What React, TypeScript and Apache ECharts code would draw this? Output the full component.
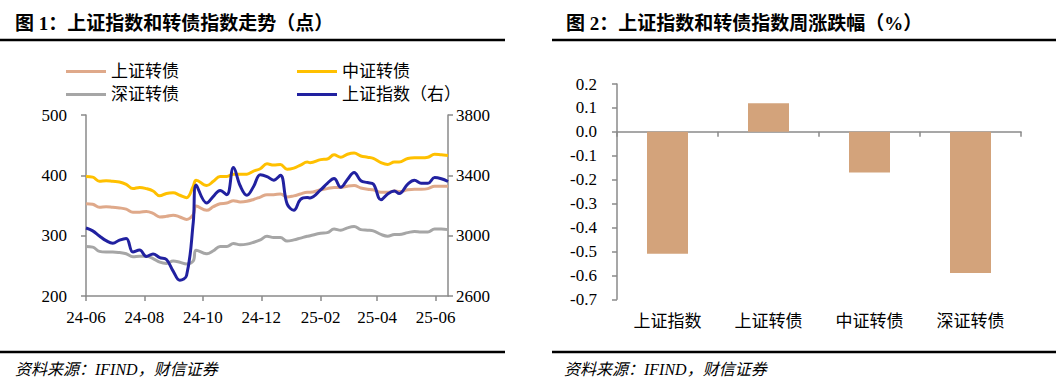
import React, { useEffect, useRef } from 'react';
import * as echarts from 'echarts';

const dates = [
  '2024-06-07', '2024-06-14', '2024-06-21', '2024-06-28', '2024-07-05', '2024-07-12', '2024-07-19', '2024-07-26',
  '2024-08-02', '2024-08-09', '2024-08-16', '2024-08-23', '2024-08-30', '2024-09-06', '2024-09-13', '2024-09-20',
  '2024-09-27', '2024-09-30', '2024-10-11', '2024-10-18', '2024-10-25', '2024-11-01', '2024-11-08', '2024-11-15',
  '2024-11-22', '2024-11-29', '2024-12-06', '2024-12-13', '2024-12-20', '2024-12-27', '2025-01-03', '2025-01-10',
  '2025-01-17', '2025-01-24', '2025-01-27', '2025-02-07', '2025-02-14', '2025-02-21', '2025-02-28', '2025-03-07',
  '2025-03-14', '2025-03-21', '2025-03-28', '2025-04-03', '2025-04-11', '2025-04-18', '2025-04-25', '2025-04-30',
  '2025-05-09', '2025-05-16', '2025-05-23', '2025-05-30', '2025-06-06', '2025-06-13', '2025-06-20',
];

// 上证转债 (left axis)
const shConv = [
  353, 352, 347, 348, 347, 346, 344, 339, 339, 340, 337, 331, 332, 334, 331, 327,
  335, 349, 342, 348, 353, 354, 358, 356, 357, 360, 364, 368, 368, 369, 364, 366,
  369, 372, 372, 376, 378, 380, 380, 382, 383, 379, 377, 376, 372, 372, 374, 373,
  376, 377, 377, 378, 382, 382, 382,
];

// 中证转债 (left axis)
const csiConv = [
  398, 397, 390, 391, 390, 389, 385, 378, 380, 378, 374, 366, 370, 371, 367, 363,
  382, 392, 383, 390, 398, 398, 402, 402, 402, 407, 411, 419, 417, 418, 410, 412,
  417, 422, 421, 426, 427, 434, 430, 435, 437, 432, 430, 428, 421, 418, 422, 422,
  428, 429, 429, 430, 435, 434, 433,
];

// 深证转债 (left axis)
const szConv = [
  282, 281, 274, 273, 273, 272, 270, 265, 266, 266, 262, 256, 254, 258, 256, 253,
  258, 276, 270, 275, 282, 282, 287, 285, 286, 289, 293, 299, 297, 297, 291, 293,
  296, 299, 300, 304, 305, 311, 309, 313, 315, 310, 309, 308, 302, 299, 302, 302,
  305, 307, 306, 306, 311, 311, 310,
];

// 上证指数 (right axis)
const sseIndex = [
  3051, 3032, 2998, 2967, 2950, 2971, 2982, 2891, 2905, 2862, 2879, 2855, 2842, 2765, 2704, 2736,
  3088, 3336, 3217, 3261, 3300, 3272, 3452, 3331, 3268, 3326, 3404, 3392, 3368, 3400, 3211, 3169,
  3241, 3253, 3250, 3303, 3347, 3379, 3321, 3373, 3419, 3364, 3352, 3342, 3238, 3277, 3296, 3279,
  3342, 3367, 3348, 3347, 3385, 3377, 3359,
];

const xTickDates = ['2024-06-07', '2024-08-07', '2024-10-07', '2024-12-07', '2025-02-07', '2025-04-07', '2025-06-07'];

const barCats = ['上证指数', '上证转债', '中证转债', '深证转债'];
const barVals = [-0.51, 0.12, -0.17, -0.59];

const SERIF = "'Liberation Serif', 'Times New Roman', 'Noto Sans CJK SC', serif";
const CJK = "'Liberation Serif', 'Noto Sans CJK SC', sans-serif";
const AXIS_COLOR = '#8a8a8a';

export default function App() {
  const ref = useRef<HTMLDivElement>(null);

  useEffect(() => {
    if (!ref.current) return;
    const chart = echarts.init(ref.current, undefined, { renderer: 'svg' });
    const ts = dates.map((d) => Date.parse(d));
    const pairs = (arr: number[]) => arr.map((v, i) => [ts[i], v]);
    const tickTs = xTickDates.map((d) => Date.parse(d));
    const fmtDate = (v: number) => {
      const d = new Date(v);
      return String(d.getUTCFullYear()).slice(2) + '-' + String(d.getUTCMonth() + 1).padStart(2, '0');
    };
    const axisLine = { show: true, lineStyle: { color: AXIS_COLOR, width: 1.5 } };
    const axisTick = { show: true, length: 5, lineStyle: { color: AXIS_COLOR, width: 1.5 } };
    const lbl = { color: '#000', fontSize: 17, fontFamily: SERIF };

    const legendBase = {
      left: 61,
      itemGap: 118,
      itemWidth: 40,
      itemHeight: 3,
      icon: 'rect',
      textStyle: { color: '#000', fontSize: 17, fontFamily: CJK },
    };

    const option: any = {
      animation: false,
      textStyle: { fontFamily: SERIF },
      grid: [
        { left: 86, top: 115, width: 362, height: 181 },
        { left: 617, top: 84, width: 404, height: 215.3 },
      ],
      legend: [
        { ...legendBase, top: 58, data: ['上证转债', '中证转债'] },
        { ...legendBase, top: 81, data: ['深证转债', '上证指数（右）'] },
      ],
      xAxis: [
        {
          type: 'value',
          gridIndex: 0,
          min: ts[0],
          max: ts[ts.length - 1],
          axisLine,
          axisTick: { ...axisTick, customValues: tickTs },
          axisLabel: { ...lbl, customValues: tickTs, formatter: fmtDate, margin: 13 },
          splitLine: { show: false },
        },
        {
          type: 'category',
          gridIndex: 1,
          data: barCats,
          axisLine: { ...axisLine, onZero: true },
          axisTick,
          axisLabel: { show: false },
          splitLine: { show: false },
        },
        {
          type: 'category',
          gridIndex: 1,
          data: barCats,
          position: 'bottom',
          axisLine: { show: false, onZero: false },
          axisTick: { show: false },
          axisLabel: { color: '#000', fontSize: 17, fontFamily: CJK, margin: 14 },
          splitLine: { show: false },
        },
      ],
      yAxis: [
        {
          type: 'value',
          gridIndex: 0,
          min: 200,
          max: 500,
          interval: 100,
          axisLine,
          axisTick,
          splitLine: { show: false },
          axisLabel: { ...lbl, margin: 19, formatter: (v: number) => String(v) },
        },
        {
          type: 'value',
          gridIndex: 0,
          position: 'right',
          min: 2600,
          max: 3800,
          interval: 400,
          axisLine,
          axisTick,
          splitLine: { show: false },
          axisLabel: { ...lbl, margin: 8, formatter: (v: number) => String(v) },
        },
        {
          type: 'value',
          gridIndex: 1,
          min: -0.7,
          max: 0.2,
          interval: 0.1,
          axisLine,
          axisTick,
          splitLine: { show: false },
          axisLabel: {
            ...lbl,
            margin: 20,
            formatter: (v: number) => (Math.abs(v) < 1e-9 ? '0.0' : v.toFixed(1)),
          },
        },
      ],
      series: [
        {
          name: '上证转债', type: 'line', xAxisIndex: 0, yAxisIndex: 0, data: pairs(shConv),
          smooth: 0.4, showSymbol: false, color: '#DFA98A', lineStyle: { width: 3, color: '#DFA98A' },
        },
        {
          name: '中证转债', type: 'line', xAxisIndex: 0, yAxisIndex: 0, data: pairs(csiConv),
          smooth: 0.4, showSymbol: false, color: '#FFC000', lineStyle: { width: 3, color: '#FFC000' },
        },
        {
          name: '深证转债', type: 'line', xAxisIndex: 0, yAxisIndex: 0, data: pairs(szConv),
          smooth: 0.4, showSymbol: false, color: '#A6A6A6', lineStyle: { width: 3, color: '#A6A6A6' },
        },
        {
          name: '上证指数（右）', type: 'line', xAxisIndex: 0, yAxisIndex: 1, data: pairs(sseIndex),
          smooth: 0.4, showSymbol: false, color: '#2121A0', lineStyle: { width: 3, color: '#2121A0' },
        },
        {
          name: '周涨跌幅', type: 'bar', xAxisIndex: 1, yAxisIndex: 2, data: barVals,
          barWidth: 41, itemStyle: { color: '#D3A37B' },
        },
      ],
      graphic: [
        { type: 'text', left: 15, top: 14, style: { text: '图 1：上证指数和转债指数走势（点）', fontSize: 19, fontWeight: 'bold', fill: '#000', fontFamily: CJK } },
        { type: 'text', left: 566, top: 14, style: { text: '图 2：上证指数和转债指数周涨跌幅（%）', fontSize: 19, fontWeight: 'bold', fill: '#000', fontFamily: CJK } },
        { type: 'line', shape: { x1: 0, y1: 40, x2: 505, y2: 40 }, style: { stroke: '#000', lineWidth: 2.5 } },
        { type: 'line', shape: { x1: 552, y1: 40, x2: 1056, y2: 40 }, style: { stroke: '#000', lineWidth: 2.5 } },
        { type: 'line', shape: { x1: 0, y1: 352, x2: 505, y2: 352 }, style: { stroke: '#000', lineWidth: 2.5 } },
        { type: 'line', shape: { x1: 552, y1: 352, x2: 1056, y2: 352 }, style: { stroke: '#000', lineWidth: 2.5 } },
        { type: 'text', left: 15, top: 361, style: { text: '资料来源：IFIND，财信证券', fontSize: 16, fontStyle: 'italic', fill: '#000', fontFamily: CJK } },
        { type: 'text', left: 564, top: 361, style: { text: '资料来源：IFIND，财信证券', fontSize: 16, fontStyle: 'italic', fill: '#000', fontFamily: CJK } },
      ],
    };
    chart.setOption(option);
    return () => chart.dispose();
  }, []);

  return (
    <div
      ref={ref}
      style={{ position: 'absolute', left: 0, top: 0, width: 1056, height: 391, background: '#fff' }}
    />
  );
}
